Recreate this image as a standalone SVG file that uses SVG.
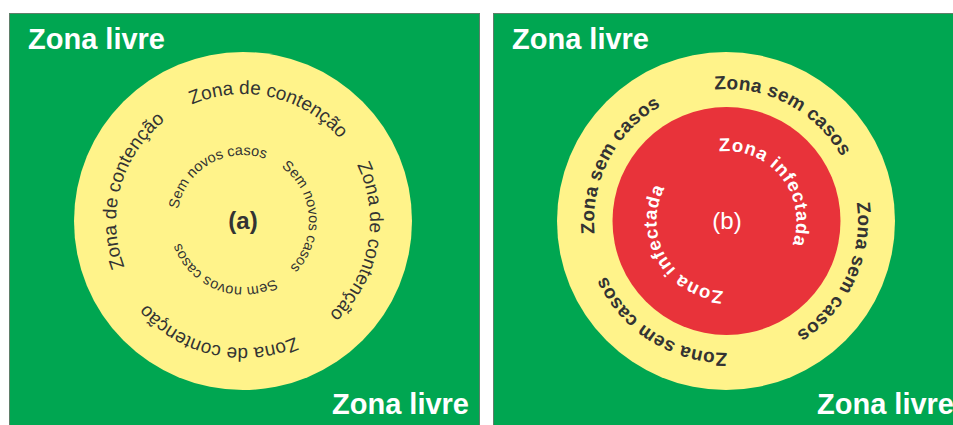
<svg xmlns="http://www.w3.org/2000/svg" xmlns:xlink="http://www.w3.org/1999/xlink" width="953" height="425" viewBox="0 0 953 425">
<style>
.panel{fill:#00A651;stroke:#5f7f6a;stroke-width:1}
.yellow{fill:#FFF38A}
.red{fill:#E8333A}
.free{font-family:"Liberation Sans",Arial,sans-serif;font-weight:bold;font-size:29px;fill:#ffffff}
.cont{font-family:"Liberation Sans",Arial,sans-serif;font-size:19px;fill:#333333}
.snc{font-family:"Liberation Sans",Arial,sans-serif;font-size:14.5px;fill:#333333}
.zsc{font-family:"Liberation Sans",Arial,sans-serif;font-weight:bold;font-size:19px;letter-spacing:0.3px;fill:#333333}
.zinf{font-family:"Liberation Sans",Arial,sans-serif;font-weight:bold;font-size:18.5px;letter-spacing:0.8px;fill:#ffffff}
.lab{font-family:"Liberation Sans",Arial,sans-serif;font-size:24px;text-anchor:middle}
</style>
<defs>
<path id="c127" d="M0,127 A127,127 0 0 1 0,-127 A127,127 0 0 1 0,127"/>
<path id="c66" d="M0,66 A66,66 0 0 1 0,-66 A66,66 0 0 1 0,66"/>
<path id="c132" d="M0,132 A132,132 0 0 1 0,-132 A132,132 0 0 1 0,132"/>
<path id="c70" d="M0,70 A70,70 0 0 1 0,-70 A70,70 0 0 1 0,70"/>
</defs>
<rect width="953" height="425" fill="#ffffff"/>

<g id="panel-a">
<rect class="panel" x="9.5" y="13.5" width="470" height="420"/>
<text class="free" x="28" y="49">Zona livre</text>
<text class="free" x="332" y="414">Zona livre</text>
<g id="zona-contencao-a">
<circle class="yellow" cx="243" cy="221" r="169"/>
<g transform="translate(243,221) rotate(13)"><text class="cont"><textPath xlink:href="#c127" href="#c127" startOffset="50%" text-anchor="middle">Zona de contenção</textPath></text></g>
<g transform="translate(243,221) rotate(100.5)"><text class="cont"><textPath xlink:href="#c127" href="#c127" startOffset="50%" text-anchor="middle">Zona de contenção</textPath></text></g>
<g transform="translate(243,221) rotate(192.5)"><text class="cont"><textPath xlink:href="#c127" href="#c127" startOffset="50%" text-anchor="middle">Zona de contenção</textPath></text></g>
<g transform="translate(243,221) rotate(285.5)"><text class="cont"><textPath xlink:href="#c127" href="#c127" startOffset="50%" text-anchor="middle">Zona de contenção</textPath></text></g>
</g>
<g id="sem-novos-casos-a">
<g transform="translate(243,221) rotate(-30)"><text class="snc"><textPath xlink:href="#c66" href="#c66" startOffset="50%" text-anchor="middle">Sem novos casos</textPath></text></g>
<g transform="translate(243,221) rotate(85)"><text class="snc"><textPath xlink:href="#c66" href="#c66" startOffset="50%" text-anchor="middle">Sem novos casos</textPath></text></g>
<g transform="translate(243,221) rotate(201)"><text class="snc"><textPath xlink:href="#c66" href="#c66" startOffset="50%" text-anchor="middle">Sem novos casos</textPath></text></g>
</g>
<text class="lab" x="243" y="229" font-weight="bold" fill="#333333">(a)</text>
</g>

<g id="panel-b">
<rect class="panel" x="493.5" y="13.5" width="470" height="420"/>
<text class="free" x="512" y="49">Zona livre</text>
<text class="free" x="817" y="414">Zona livre</text>
<g id="zona-sem-casos-b">
<circle class="yellow" cx="726" cy="221" r="169"/>
<g transform="translate(726,221) rotate(28)"><text class="zsc"><textPath xlink:href="#c132" href="#c132" startOffset="50%" text-anchor="middle">Zona sem casos</textPath></text></g>
<g transform="translate(726,221) rotate(115)"><text class="zsc"><textPath xlink:href="#c132" href="#c132" startOffset="50%" text-anchor="middle">Zona sem casos</textPath></text></g>
<g transform="translate(726,221) rotate(212.5)"><text class="zsc"><textPath xlink:href="#c132" href="#c132" startOffset="50%" text-anchor="middle">Zona sem casos</textPath></text></g>
<g transform="translate(726,221) rotate(297.5)"><text class="zsc"><textPath xlink:href="#c132" href="#c132" startOffset="50%" text-anchor="middle">Zona sem casos</textPath></text></g>
</g>
<g id="zona-infectada-b">
<circle class="red" cx="726.5" cy="221" r="114"/>
<g transform="translate(726.5,221) rotate(52)"><text class="zinf"><textPath xlink:href="#c70" href="#c70" startOffset="50%" text-anchor="middle">Zona infectada</textPath></text></g>
<g transform="translate(726.5,221) rotate(240.5)"><text class="zinf"><textPath xlink:href="#c70" href="#c70" startOffset="50%" text-anchor="middle">Zona infectada</textPath></text></g>
</g>
<text class="lab" x="727" y="229" fill="#ffffff">(b)</text>
</g>
<g id="connectors"/>
</svg>
